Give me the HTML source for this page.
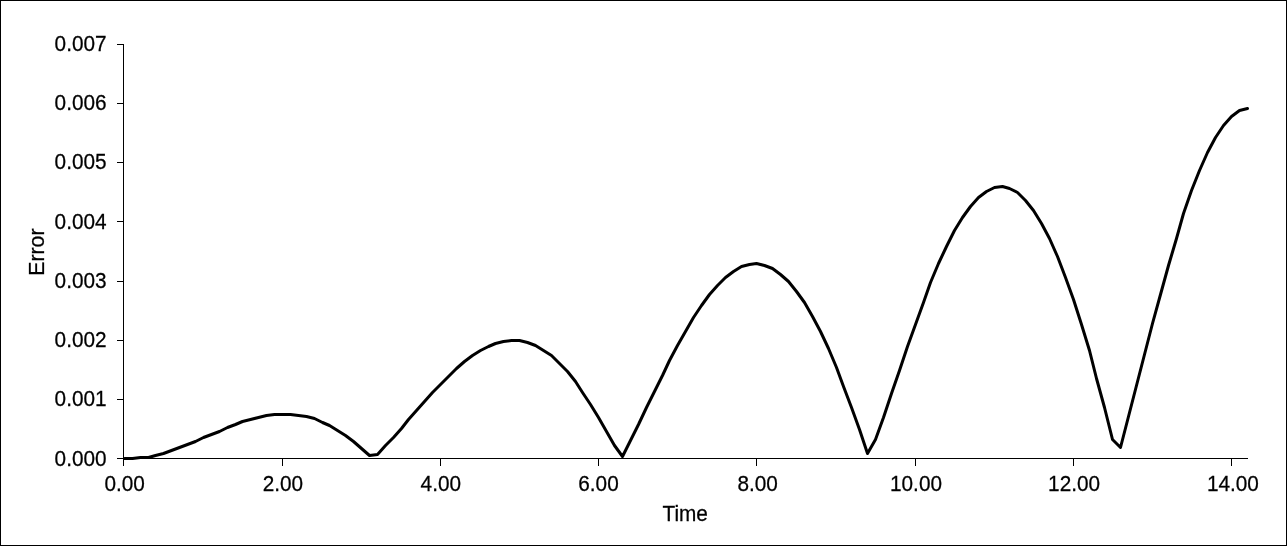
<!DOCTYPE html>
<html><head><meta charset="utf-8"><title>Error vs Time</title>
<style>
html,body{margin:0;padding:0;background:#fff;}
svg{display:block;filter:grayscale(1);}
text{font-family:"Liberation Sans",Arial,sans-serif;font-size:21.33px;fill:#000;stroke:#000;stroke-width:0.25px;}
</style></head><body>
<svg width="1287" height="546" viewBox="0 0 1287 546">
<rect x="0" y="0" width="1287" height="546" fill="#fff"/>
<rect x="0.5" y="0.5" width="1286" height="545" fill="none" stroke="#000" stroke-width="1"/>
<g stroke="#000" stroke-width="1" shape-rendering="crispEdges">
<line x1="123.5" y1="44" x2="123.5" y2="466"/>
<line x1="117" y1="458.5" x2="1248" y2="458.5"/>
<line x1="117" y1="458.5" x2="124" y2="458.5"/>
<line x1="117" y1="399.5" x2="124" y2="399.5"/>
<line x1="117" y1="340.5" x2="124" y2="340.5"/>
<line x1="117" y1="281.5" x2="124" y2="281.5"/>
<line x1="117" y1="221.5" x2="124" y2="221.5"/>
<line x1="117" y1="162.5" x2="124" y2="162.5"/>
<line x1="117" y1="103.5" x2="124" y2="103.5"/>
<line x1="117" y1="44.5" x2="124" y2="44.5"/>
<line x1="123.5" y1="458" x2="123.5" y2="466"/>
<line x1="282.5" y1="458" x2="282.5" y2="466"/>
<line x1="440.5" y1="458" x2="440.5" y2="466"/>
<line x1="598.5" y1="458" x2="598.5" y2="466"/>
<line x1="756.5" y1="458" x2="756.5" y2="466"/>
<line x1="915.5" y1="458" x2="915.5" y2="466"/>
<line x1="1073.5" y1="458" x2="1073.5" y2="466"/>
<line x1="1231.5" y1="458" x2="1231.5" y2="466"/>
</g>
<g transform="translate(106.60,465.60) scale(0.975,1)"><text x="0" y="0" text-anchor="end">0.000</text></g>
<g transform="translate(106.60,406.34) scale(0.975,1)"><text x="0" y="0" text-anchor="end">0.001</text></g>
<g transform="translate(106.60,347.09) scale(0.975,1)"><text x="0" y="0" text-anchor="end">0.002</text></g>
<g transform="translate(106.60,287.83) scale(0.975,1)"><text x="0" y="0" text-anchor="end">0.003</text></g>
<g transform="translate(106.60,228.57) scale(0.975,1)"><text x="0" y="0" text-anchor="end">0.004</text></g>
<g transform="translate(106.60,169.32) scale(0.975,1)"><text x="0" y="0" text-anchor="end">0.005</text></g>
<g transform="translate(106.60,110.06) scale(0.975,1)"><text x="0" y="0" text-anchor="end">0.006</text></g>
<g transform="translate(106.60,50.80) scale(0.975,1)"><text x="0" y="0" text-anchor="end">0.007</text></g>
<g transform="translate(124.70,491.00) scale(0.975,1)"><text x="0" y="0" text-anchor="middle">0.00</text></g>
<g transform="translate(282.90,491.00) scale(0.975,1)"><text x="0" y="0" text-anchor="middle">2.00</text></g>
<g transform="translate(440.80,491.00) scale(0.975,1)"><text x="0" y="0" text-anchor="middle">4.00</text></g>
<g transform="translate(598.50,491.00) scale(0.975,1)"><text x="0" y="0" text-anchor="middle">6.00</text></g>
<g transform="translate(757.70,491.00) scale(0.975,1)"><text x="0" y="0" text-anchor="middle">8.00</text></g>
<g transform="translate(916.00,491.00) scale(0.975,1)"><text x="0" y="0" text-anchor="middle">10.00</text></g>
<g transform="translate(1074.10,491.00) scale(0.975,1)"><text x="0" y="0" text-anchor="middle">12.00</text></g>
<g transform="translate(1232.90,491.00) scale(0.975,1)"><text x="0" y="0" text-anchor="middle">14.00</text></g>
<g transform="translate(685.20,521.00) scale(0.975,1)"><text x="0" y="0" text-anchor="middle">Time</text></g>
<g transform="translate(44.00,252.10) rotate(-90) scale(0.995,1)"><text x="0" y="0" text-anchor="middle">Error</text></g>
<polyline points="124.50,458.50 132.50,458.50 140.50,457.50 148.50,457.50 155.50,455.50 163.50,453.50 171.50,450.50 179.50,447.50 187.50,444.50 195.50,441.50 203.50,437.50 211.50,434.50 219.50,431.50 227.50,427.50 235.50,424.50 242.50,421.50 250.50,419.50 258.50,417.50 266.50,415.50 274.50,414.50 282.50,414.50 290.50,414.50 298.50,415.50 306.50,416.50 314.50,418.50 322.50,422.50 329.50,425.50 337.50,430.50 345.50,435.50 353.50,441.50 361.50,448.50 369.50,455.50 377.50,454.50 385.50,445.50 393.50,437.50 401.50,428.50 408.50,419.50 416.50,410.50 424.50,401.50 432.50,392.50 440.50,384.50 448.50,376.50 456.50,368.50 464.50,361.50 472.50,355.50 480.50,350.50 488.50,346.50 495.50,343.50 503.50,341.50 511.50,340.50 519.50,340.50 527.50,342.50 535.50,345.50 543.50,350.50 551.50,355.50 559.50,363.50 567.50,371.50 575.50,381.50 582.50,392.50 590.50,404.50 598.50,417.50 606.50,431.50 614.50,445.50 622.50,456.50 630.50,440.50 638.50,424.50 646.50,407.50 654.50,391.50 662.50,375.50 669.50,360.50 677.50,345.50 685.50,331.50 693.50,317.50 701.50,305.50 709.50,294.50 717.50,285.50 725.50,277.50 733.50,271.50 741.50,266.50 749.50,264.50 756.50,263.50 764.50,265.50 772.50,268.50 780.50,274.50 788.50,281.50 796.50,291.50 804.50,302.50 812.50,316.50 820.50,331.50 828.50,348.50 836.50,367.50 843.50,386.50 851.50,407.50 859.50,429.50 867.50,453.50 875.50,439.50 883.50,417.50 891.50,393.50 899.50,370.50 907.50,346.50 915.50,324.50 923.50,302.50 930.50,282.50 938.50,263.50 946.50,246.50 954.50,230.50 962.50,217.50 970.50,206.50 978.50,197.50 986.50,191.50 994.50,187.50 1002.50,186.50 1009.50,188.50 1017.50,192.50 1025.50,200.50 1033.50,210.50 1041.50,223.50 1049.50,238.50 1057.50,256.50 1065.50,277.50 1073.50,299.50 1081.50,324.50 1089.50,350.50 1096.50,378.50 1104.50,407.50 1112.50,439.50 1120.50,447.50 1128.50,416.50 1136.50,385.50 1144.50,354.50 1152.50,323.50 1160.50,294.50 1168.50,265.50 1176.50,238.50 1183.50,213.50 1191.50,190.50 1199.50,170.50 1207.50,152.50 1215.50,137.50 1223.50,125.50 1231.50,116.50 1239.50,110.50 1247.50,108.50" fill="none" stroke="#000" stroke-width="3" stroke-linejoin="round" stroke-linecap="round"/>
</svg>
</body></html>
